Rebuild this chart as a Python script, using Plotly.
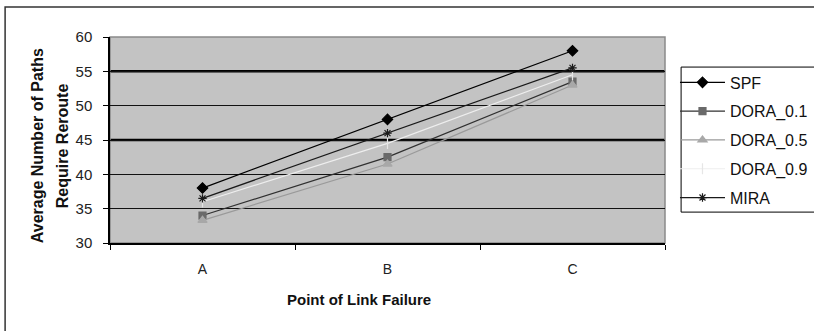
import plotly.graph_objects as go

categories = ["A", "B", "C"]
spf = [38, 48, 58]
dora_01 = [34, 42.5, 53.5]
dora_05 = [33.3, 41.5, 53]
dora_09 = [36, 44.5, 54.5]
mira = [36.5, 46, 55.5]

y_title_lines = ["Average Number of Paths", "Require Reroute"]
x_title = "Point of Link Failure"

series = [
    ("SPF", spf, "#000000", "#000000", "diamond", 8),
    ("DORA_0.1", dora_01, "#303030", "#6a6a6a", "square", 7),
    ("DORA_0.5", dora_05, "#9a9a9a", "#a8a8a8", "triangle-up", 8),
    ("DORA_0.9", dora_09, "#eeeeee", "#e6e6e6", "line-ns-open", 8),
    ("MIRA", mira, "#1a1a1a", "#1a1a1a", "asterisk-open", 7),
]

fig = go.Figure()
for i, (name, vals, lc, mc, sym, sz) in enumerate(series):
    fig.add_trace(go.Scatter(
        x=categories, y=vals, name=name, mode="lines+markers",
        line=dict(color=lc, width=1.2),
        marker=dict(symbol=sym, size=sz, color=mc, line=dict(color=mc, width=1.2)),
        legendgroup=name,
    ))

# heavier gridlines at 45 and 55, as in the original
for yv in [45, 55]:
    fig.add_shape(type="line", xref="paper", yref="y", x0=0, x1=1, y0=yv, y1=yv,
                  line=dict(color="#000000", width=2.5), layer="below")

# outer chart border (right and bottom edges fall outside the picture)
fig.add_shape(type="rect", xref="paper", yref="paper",
              x0=-0.189, x1=1.4, y0=-0.6, y1=1.146,
              line=dict(color="#333333", width=1.5), fillcolor="rgba(0,0,0,0)")

# legend box (extends past the right edge)
fig.add_shape(type="rect", xref="paper", yref="paper",
              x0=1.029, x1=1.4, y0=0.150, y1=0.854,
              line=dict(color="#000000", width=1), fillcolor="white", layer="below")

# plot area top/right border
fig.add_shape(type="rect", xref="paper", yref="paper", x0=0, x1=1, y0=0, y1=1,
              line=dict(color="#8a8a8a", width=1.5), fillcolor="rgba(0,0,0,0)", layer="below")

fig.add_annotation(text="<b>" + x_title + "</b>", xref="paper", yref="paper",
                   x=0.449, y=-0.275, yshift=-10, showarrow=False,
                   font=dict(family="Liberation Sans, Arial", size=15, color="#111111"))

# y-axis title, two lines placed like the original
for line_text, xpix in zip(y_title_lines, [37, 62]):
    fig.add_annotation(text="<b>" + line_text + "</b>", xref="paper", yref="paper",
                       x=0, xshift=xpix - 110, y=0.47, textangle=-90, showarrow=False,
                       xanchor="center", yanchor="middle",
                       font=dict(family="Liberation Sans, Arial", size=16, color="#111111"))

fig.update_layout(
    width=814, height=331,
    margin=dict(l=110, r=149, t=37, b=88, autoexpand=False),
    paper_bgcolor="white",
    plot_bgcolor="#c3c3c3",
    font=dict(family="Liberation Sans, Arial", size=13, color="#222222"),
    showlegend=True,
    legend=dict(
        x=1.018, xanchor="left", y=0.862, yanchor="top",
        bgcolor="rgba(0,0,0,0)", borderwidth=0,
        font=dict(size=16, color="#111111"),
        traceorder="grouped", tracegroupgap=5,
        itemwidth=45,
    ),
    xaxis=dict(
        type="category", range=[-0.5, 2.5], showgrid=False,
        ticks="outside", ticklen=5, tickcolor="#000000",
        tickson="boundaries", ticklabelstandoff=12,
        showline=True, linecolor="#000000", linewidth=1.5,
        tickfont=dict(size=14, color="#222222"),
    ),
    yaxis=dict(
        range=[30, 60], dtick=5,
        showgrid=True, gridcolor="#111111", gridwidth=1.3,
        ticks="outside", ticklen=5, tickcolor="#000000",
        ticklabelstandoff=8,
        showline=True, linecolor="#000000", linewidth=1.5,
        tickfont=dict(size=15, color="#222222"),
    ),
)

fig.write_html("out.html")
